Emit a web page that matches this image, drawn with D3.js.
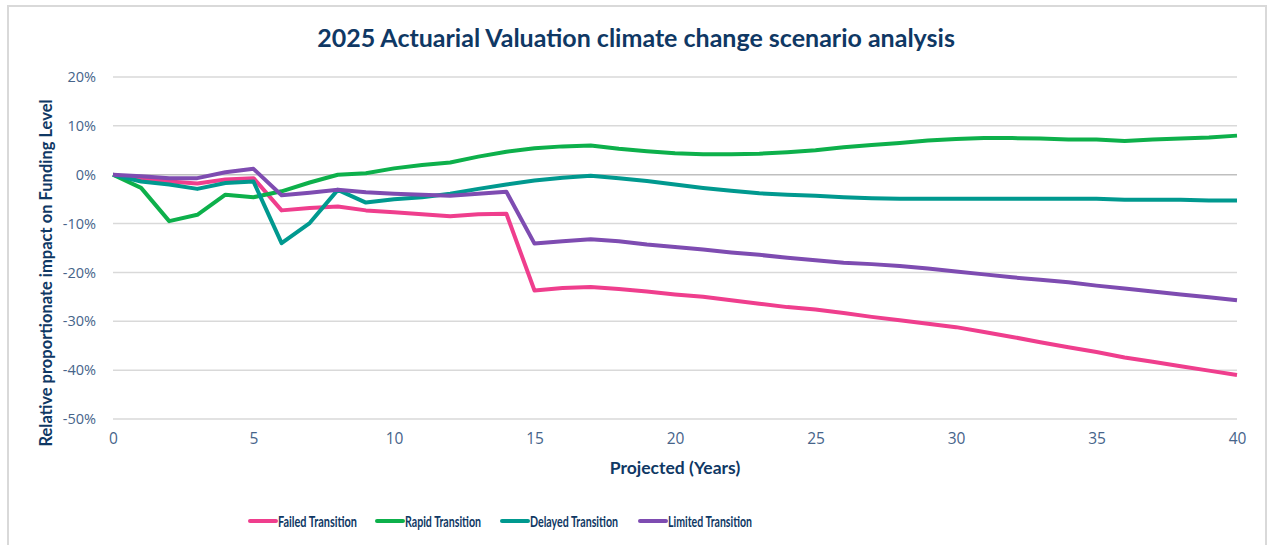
<!DOCTYPE html>
<html>
<head>
<meta charset="utf-8">
<script src="https://cdn.jsdelivr.net/npm/d3@7"></script>
<style>
  body { margin: 0; background: #fff; }
  svg { display: block; font-family: "Lato", "Open Sans", sans-serif; }
</style>
</head>
<body>
<div id="chart"></div>
<script>
// data (percent impact on funding level)
const years = d3.range(0, 41);
const failed = [0, -0.9, -1.4, -1.8, -1.0, -0.7, -7.3, -6.8, -6.5, -7.3, -7.7, -8.1, -8.5, -8.1, -8.0,
  -23.7, -23.2, -23.0, -23.4, -23.9, -24.5, -25.0, -25.7, -26.4, -27.1, -27.6, -28.3, -29.1, -29.8, -30.5,
  -31.2, -32.2, -33.2, -34.3, -35.3, -36.3, -37.4, -38.3, -39.2, -40.1, -41.0];
const rapid = [0, -2.7, -9.5, -8.2, -4.1, -4.6, -3.4, -1.6, 0.0, 0.3, 1.3, 2.0, 2.5, 3.7, 4.7,
  5.4, 5.8, 6.0, 5.3, 4.8, 4.4, 4.2, 4.2, 4.3, 4.6, 5.0, 5.6, 6.1, 6.5, 7.0,
  7.3, 7.5, 7.5, 7.4, 7.2, 7.2, 6.9, 7.2, 7.4, 7.6, 8.0];
const delayed = [0, -1.4, -2.0, -2.9, -1.7, -1.4, -14.0, -9.9, -3.1, -5.7, -5.0, -4.6, -3.9, -2.9, -2.0,
  -1.2, -0.6, -0.2, -0.7, -1.3, -2.0, -2.7, -3.3, -3.8, -4.1, -4.3, -4.6, -4.8, -4.9, -4.9,
  -4.9, -4.9, -4.9, -4.9, -4.9, -4.9, -5.1, -5.1, -5.1, -5.3, -5.3];
const limited = [0, -0.3, -0.7, -0.7, 0.5, 1.2, -4.2, -3.7, -3.1, -3.6, -3.9, -4.1, -4.3, -3.9, -3.5,
  -14.1, -13.6, -13.2, -13.6, -14.3, -14.8, -15.3, -15.9, -16.4, -17.0, -17.5, -18.0, -18.3, -18.7, -19.2,
  -19.8, -20.4, -21.0, -21.5, -22.0, -22.7, -23.3, -23.9, -24.5, -25.1, -25.7];

const seriesNames = ["Failed Transition", "Rapid Transition", "Delayed Transition", "Limited Transition"];
const seriesColors = ["#ef3e8d", "#0db04b", "#00998f", "#7e4cb1"];
const xTicks = [0, 5, 10, 15, 20, 25, 30, 35, 40];
const yTicks = [20, 10, 0, -10, -20, -30, -40, -50];

const width = 1268, height = 545;
const margin = { top: 77, right: 31, bottom: 126, left: 113 };

const svg = d3.select("#chart").append("svg")
  .attr("width", width)
  .attr("height", height);

// chart outline
svg.append("rect")
  .attr("x", 8).attr("y", 6)
  .attr("width", 1258).attr("height", 600)
  .attr("fill", "#fff")
  .attr("stroke", "#d9d9d9")
  .attr("stroke-width", 2);

const x = d3.scaleLinear().domain([0, 40]).range([margin.left, width - margin.right]);
const y = d3.scaleLinear().domain([-50, 20]).range([height - margin.bottom, margin.top]);

// gridlines
svg.append("g")
  .selectAll("line")
  .data(yTicks)
  .join("line")
  .attr("x1", x(0)).attr("x2", x(40))
  .attr("y1", d => y(d)).attr("y2", d => y(d))
  .attr("stroke", d => d === 0 ? "#bfbfbf" : "#d9d9d9")
  .attr("stroke-width", 1.5);

// y axis
const yAxis = svg.append("g")
  .attr("transform", `translate(${margin.left},0)`)
  .call(d3.axisLeft(y).tickValues(yTicks).tickSize(0).tickPadding(17)
    .tickFormat(d => d + "%"));
yAxis.select(".domain").remove();
yAxis.selectAll("text")
  .attr("fill", "#46648a")
  .style("font-size", "14.5px")
  .style("font-family", "'Open Sans', sans-serif");

// x axis
const xAxis = svg.append("g")
  .attr("transform", `translate(0,${y(-50)})`)
  .call(d3.axisBottom(x).tickValues(xTicks).tickSize(0).tickPadding(14));
xAxis.select(".domain").remove();
xAxis.selectAll("text")
  .attr("fill", "#46648a")
  .style("font-size", "15.5px")
  .style("font-family", "'Open Sans', sans-serif");

// lines
const allSeries = [failed, rapid, delayed, limited];
const line = d3.line()
  .x((d, i) => x(years[i]))
  .y(d => y(d));

svg.append("g")
  .selectAll("path")
  .data(allSeries)
  .join("path")
  .attr("d", line)
  .attr("fill", "none")
  .attr("stroke", (d, i) => seriesColors[i])
  .attr("stroke-width", 4)
  .attr("stroke-linejoin", "round");

// title
svg.append("text")
  .attr("x", 636).attr("y", 47)
  .attr("text-anchor", "middle")
  .attr("fill", "#0f3864")
  .style("font-size", "25px")
  .style("font-weight", "bold")
  .text("2025 Actuarial Valuation climate change scenario analysis");

// axis titles
svg.append("text")
  .attr("x", 675).attr("y", 474)
  .attr("text-anchor", "middle")
  .attr("fill", "#0f3864")
  .style("font-size", "17.5px")
  .style("font-weight", "bold")
  .text("Projected (Years)");

svg.append("text")
  .attr("transform", "translate(52,273) rotate(-90)")
  .attr("text-anchor", "middle")
  .attr("fill", "#0f3864")
  .style("font-size", "16.5px")
  .style("font-weight", "bold")
  .text("Relative proportionate  impact on Funding Level");

// legend
const legendX = [250, 377, 502, 640];
const legendTextW = [79, 76, 88, 84];
const legend = svg.append("g")
  .selectAll("g")
  .data(seriesNames)
  .join("g")
  .attr("transform", (d, i) => `translate(${legendX[i]},521)`);

legend.append("line")
  .attr("x1", 0).attr("x2", 26)
  .attr("stroke", (d, i) => seriesColors[i])
  .attr("stroke-width", 4)
  .attr("stroke-linecap", "round");

legend.append("text")
  .attr("x", 28).attr("dy", "0.36em")
  .attr("fill", "#0f3864")
  .attr("textLength", (d, i) => legendTextW[i])
  .attr("lengthAdjust", "spacingAndGlyphs")
  .style("font-size", "15.5px")
  .style("font-weight", "bold")
  .text(d => d);
</script>
</body>
</html>
